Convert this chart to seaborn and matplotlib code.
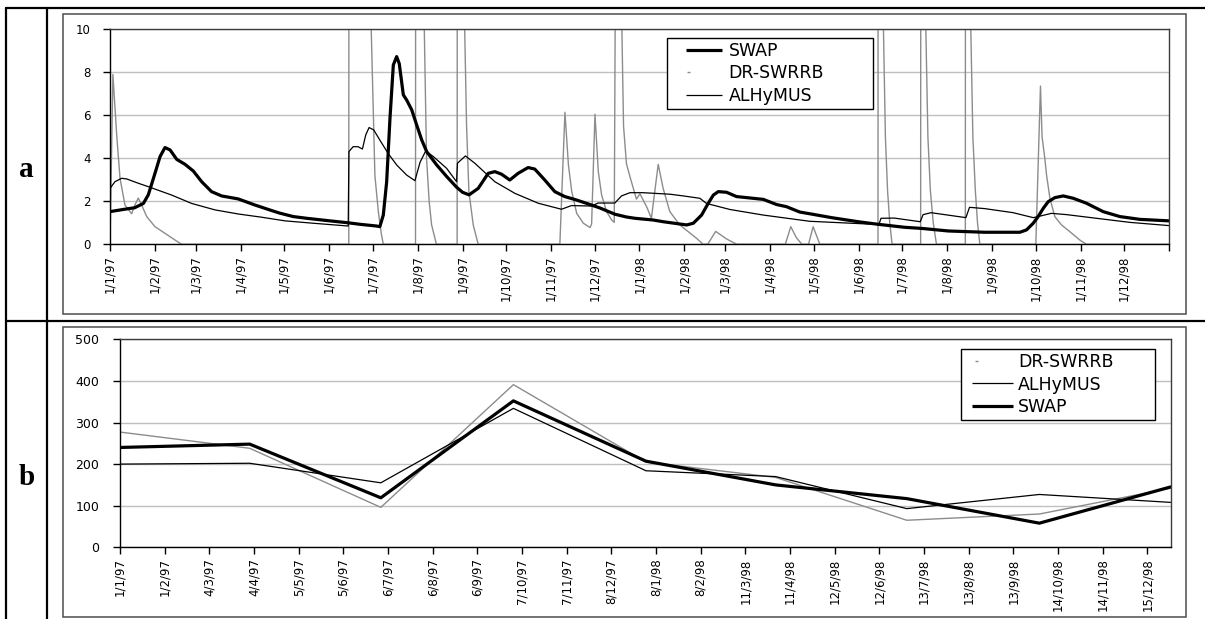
import numpy as np
import pandas as pd
import matplotlib
matplotlib.use("Agg")
import matplotlib.pyplot as plt
from matplotlib.lines import Line2D
from matplotlib.patches import Rectangle
from matplotlib.legend_handler import HandlerBase
import seaborn as sns

# ---------------------------------------------------------------------------
# Panel a: daily discharge, vertices given as (days after 1 Jan 1997, value)
# ---------------------------------------------------------------------------
swap_day = [0, 10, 17, 23, 26.4, 31, 34.5, 37.9, 41.4, 46, 51.7, 57.4, 63.2, 70, 76.9,
            88.4, 99.8, 111.4, 117, 126.3, 135.5, 151.6, 164.2, 172.3, 183.8, 186, 188.4,
            190.7, 193, 195.3, 197.6, 199.4, 202.2, 204.5, 208, 211.4, 214.9, 218.3, 225.2,
            232.1, 239, 243, 247.5, 253.8, 260.7, 265.3, 269.9, 275.6, 281.3, 288.2, 292.8,
            299.7, 306.6, 313.5, 321.6, 329.6, 337.7, 348, 356, 361.8, 374.4, 381.4, 397.5,
            402.1, 407.8, 412.4, 415.9, 419.3, 425, 431.9, 450.3, 459.5, 466.3, 475.5, 482.4,
            497.4, 515.8, 529.5, 547.9, 559.4, 577.8, 603, 627.2, 631.8, 636.4, 639.8, 643.3,
            646.7, 651.3, 657.1, 664, 673.1, 684.6, 696.1, 709.9, 730]
swap_val = [1.52, 1.63, 1.7, 1.9, 2.3, 3.3, 4.08, 4.5, 4.39, 3.95, 3.72, 3.41, 2.91, 2.45, 2.25,
            2.11, 1.83, 1.57, 1.45, 1.29, 1.21, 1.09, 1.0, 0.93, 0.85, 0.82, 1.36,
            2.9, 5.86, 8.34, 8.73, 8.4, 6.95, 6.71, 6.25, 5.55, 4.85, 4.31, 3.69,
            3.15, 2.65, 2.42, 2.3, 2.6, 3.3, 3.38, 3.26, 2.99, 3.3, 3.57, 3.5,
            2.99, 2.45, 2.22, 2.06, 1.88, 1.69, 1.4, 1.27, 1.21, 1.13, 1.05, 0.9,
            0.98, 1.36, 1.91, 2.29, 2.45, 2.42, 2.22, 2.09, 1.85, 1.75, 1.5, 1.42,
            1.24, 1.05, 0.93, 0.79, 0.74, 0.62, 0.56, 0.56, 0.67, 0.98, 1.29, 1.67,
            1.98, 2.17, 2.25, 2.14, 1.91, 1.52, 1.29, 1.16, 1.09]

alhy_day = [0, 3.4, 8, 11.5, 19.5, 26.4, 42.5, 56.3, 72.4, 88.4, 104.5, 120.6, 140, 164.2,
            164.7, 167.6, 171, 174, 176.3, 178.6, 181.8, 186, 191.7, 197.6, 204.5, 210.2,
            213.7, 217.6, 222.9, 232.1, 238.9, 239.5, 245, 251.5, 265.3, 279.1, 295.2,
            311.2, 318.1, 331.9, 336.5, 348, 352.6, 358.4, 367.5, 386, 395.2, 406.6, 411.2,
            427.3, 450.3, 482.4, 530, 531.5, 540.6, 558.5, 560.5, 566, 590, 592.5, 603,
            622.6, 636.4, 639.8, 649, 659.4, 680, 703, 730]
alhy_val = [2.6, 2.91, 3.07, 3.04, 2.84, 2.68, 2.29, 1.9, 1.6, 1.41, 1.26, 1.09, 0.98, 0.85,
            4.31, 4.54, 4.54, 4.43, 5.09, 5.43, 5.32, 4.85, 4.23, 3.69, 3.22, 2.96,
            3.81, 4.34, 4.08, 3.53, 2.91, 3.77, 4.11, 3.77, 2.91, 2.37, 1.91,
            1.63, 1.8, 1.78, 1.92, 1.92, 2.25, 2.4, 2.4, 2.33, 2.25, 2.14, 1.9,
            1.62, 1.36, 1.07, 0.92, 1.21, 1.22, 1.05, 1.38, 1.47, 1.24, 1.72, 1.66,
            1.47, 1.24, 1.29, 1.44, 1.38, 1.21, 1.02, 0.87]

drs_day = [0, 2, 4.6, 6.9, 10.3, 14.9, 17.2, 19.5, 21.8, 25.3, 31, 37.9, 44.8, 49.4,
           164.6, 164.8, 179.7, 182.6, 185, 187, 188.4,
           210.6, 210.8, 216.4, 218.2, 220, 221.7, 225,
           239.3, 239.5, 244.2, 245.8, 247.4, 250.4, 253.8,
           310.1, 313.6, 316, 318.3, 321.7, 326.3, 330.9, 332, 334.3, 336.6, 338.9, 342.3,
           345.8, 347.6, 349.9, 352.6, 354, 356, 358.4, 362.9, 365.3, 369.9, 373.2, 377.9,
           381.3, 385.9, 392.8, 404.3, 408.9,
           412, 417.5, 425, 432, 465.5, 469.3, 473.2, 477, 481.5, 484.7, 489.3,
           529.4, 529.6, 532.9, 534.5, 536, 537.5, 539.1,
           558.8, 559, 562.1, 563.8, 565.5, 567.5, 569.7,
           589.6, 589.8, 593.1, 594.8, 596.5, 598, 599.6,
           638.2, 641.4, 642.5, 644.4, 645.6, 647.9, 651.3, 655.9, 661.6, 668.5, 673.1, 730]
drs_val = [0, 7.9, 5.1, 3.07, 1.83, 1.42, 1.83, 2.15, 1.83, 1.29, 0.82, 0.51, 0.2, 0,
           0, 35, 11, 3.2, 1.5, 0.5, 0,
           0, 35, 11, 4.0, 2.0, 0.9, 0,
           0, 35, 11, 5.5, 2.45, 0.9, 0,
           0, 6.14, 3.69, 2.45, 1.44, 0.98, 0.78, 0.95, 6.05, 3.38, 2.29, 1.52,
           1.13, 1.02, 35, 11, 5.5, 3.75, 3.15, 2.1, 2.35, 1.75, 1.21, 3.72,
           2.6, 1.52, 0.9, 0.28, 0,
           0, 0.6, 0.25, 0, 0, 0.82, 0.3, 0, 0, 0.82, 0,
           0, 35, 11, 5.0, 2.5, 1.0, 0,
           0, 35, 11, 5.0, 2.5, 1.0, 0,
           0, 35, 11, 5.0, 2.5, 1.0, 0,
           0, 7.36, 5.0, 4.0, 3.22, 2.14, 1.29, 0.9, 0.59, 0.2, 0, 0]

a_tick_labels = ["1/1/97", "1/2/97", "1/3/97", "1/4/97", "1/5/97", "1/6/97", "1/7/97",
                 "1/8/97", "1/9/97", "1/10/97", "1/11/97", "1/12/97", "1/1/98", "1/2/98",
                 "1/3/98", "1/4/98", "1/5/98", "1/6/98", "1/7/98", "1/8/98", "1/9/98",
                 "1/10/98", "1/11/98", "1/12/98"]

# ---------------------------------------------------------------------------
# Panel b: quarterly totals
# ---------------------------------------------------------------------------
b_dates = ["1/1/97", "1/4/97", "1/7/97", "1/10/97", "1/1/98", "1/4/98", "1/7/98",
           "1/10/98", "31/12/98"]
b_swap = [240, 248, 119, 352, 207, 150, 117, 58, 145]
b_drs = [277, 238, 96, 391, 205, 168, 65, 80, 142]
b_alhy = [200, 202, 155, 334, 184, 170, 93, 127, 108]

b_tick_labels = ["1/1/97", "1/2/97", "4/3/97", "4/4/97", "5/5/97", "5/6/97", "6/7/97",
                 "6/8/97", "6/9/97", "7/10/97", "7/11/97", "8/12/97", "8/1/98", "8/2/98",
                 "11/3/98", "11/4/98", "12/5/98", "12/6/98", "13/7/98", "13/8/98",
                 "13/9/98", "14/10/98", "14/11/98", "15/12/98"]

# ---------------------------------------------------------------------------
sns.set_style("ticks")
plt.rcParams["font.family"] = ["DejaVu Sans"]
plt.rcParams["text.color"] = "black"
plt.rcParams["xtick.color"] = "black"
plt.rcParams["ytick.color"] = "black"
plt.rcParams["xtick.labelcolor"] = "black"
plt.rcParams["ytick.labelcolor"] = "black"

W, H = 1205, 619
START = pd.Timestamp("1997-01-01")
GREY = "#8c8c8c"


def to_dates(days):
    return START + pd.to_timedelta(np.asarray(days, dtype=float), unit="D")


def parse(labels):
    return pd.to_datetime(labels, format="%d/%m/%y")


def fx(x):
    return x / W


def fy(y):
    return 1 - y / H


class SegmentHandler(HandlerBase):
    """Legend key drawn as a segment over part of the handle box."""

    def __init__(self, f0, f1, color, lw):
        super().__init__()
        self.f0, self.f1, self.color, self.lw = f0, f1, color, lw

    def create_artists(self, legend, orig_handle, xdescent, ydescent, width, height,
                       fontsize, trans):
        y = height / 2 - ydescent
        ln = Line2D([-xdescent + self.f0 * width, -xdescent + self.f1 * width], [y, y],
                    color=self.color, lw=self.lw, solid_capstyle="butt")
        ln.set_transform(trans)
        return [ln]


fig = plt.figure(figsize=(W / 100, H / 100), dpi=100)
fig.patch.set_facecolor("white")

# table rules
for (x0, y0, x1, y1) in [(6, 8, W, 8), (6, 320.7, W, 320.7), (6, 8, 6, H), (47, 8, 47, H)]:
    fig.add_artist(Line2D([fx(x0), fx(x1)], [fy(y0), fy(y1)], color="black", lw=1.6,
                          transform=fig.transFigure))

# chart frames
for (x0, y0, x1, y1) in [(63.3, 14, 1185.7, 314.3), (63.3, 327.3, 1185.7, 617.3)]:
    fig.add_artist(Rectangle((fx(x0), fy(y1)), fx(x1) - fx(x0), fy(y0) - fy(y1),
                             fill=False, edgecolor="#4d4d4d", lw=1.1,
                             transform=fig.transFigure))

fig.text(fx(26.5), fy(177), "a", family="Liberation Serif", weight="bold", fontsize=21,
         ha="center", va="baseline", color="black")
fig.text(fx(26.5), fy(485), "b", family="Liberation Serif", weight="bold", fontsize=21,
         ha="center", va="baseline", color="black")


def style_axes(ax):
    ax.set_facecolor("white")
    ax.grid(axis="y", color="#c0c0c0", lw=1.0)
    ax.grid(axis="x", visible=False)
    ax.set_axisbelow(True)
    for s in ("left", "bottom"):
        ax.spines[s].set_color("black")
        ax.spines[s].set_linewidth(1.0)
    for s in ("top", "right"):
        ax.spines[s].set_visible(True)
        ax.spines[s].set_color("#3c3c3c")
        ax.spines[s].set_linewidth(1.0)
    ax.set_xlabel("")
    ax.set_ylabel("")


# ---------------- panel a ----------------
ax_a = fig.add_axes([fx(110), fy(244.3), fx(1169) - fx(110), fy(29.3) - fy(244.3)])
series_a = [("DR-SWRRB", drs_day, drs_val, GREY, 1.0),
            ("ALHyMUS", alhy_day, alhy_val, "black", 0.9),
            ("SWAP", swap_day, swap_val, "black", 2.3)]
for name, d, v, c, lw in series_a:
    df = pd.DataFrame({"date": to_dates(d), "value": v})
    sns.lineplot(data=df, x="date", y="value", ax=ax_a, color=c, lw=lw,
                 estimator=None, sort=False, legend=False)

ax_a.set_ylim(0, 10)
ax_a.set_yticks([0, 2, 4, 6, 8, 10])
ax_a.set_xlim(START, pd.Timestamp("1999-01-01"))
a_ticks = list(parse(a_tick_labels)) + [pd.Timestamp("1999-01-01")]
ax_a.set_xticks(a_ticks)
ax_a.set_xticklabels(a_tick_labels + [""], rotation=90)
style_axes(ax_a)
ax_a.tick_params(axis="x", direction="out", length=5, width=1, color="black",
                 labelcolor="black", labelsize=8.5, pad=3)
ax_a.tick_params(axis="y", direction="out", length=5, width=1, color="black",
                 labelcolor="black", labelsize=8.5, pad=9)

fs_leg = 12.5
x0a, x1a = (667.3 - 110) / 1059, (873.3 - 110) / 1059
topa, bota = (244.3 - 37.7) / 215, (244.3 - 112.7) / 215
h_swap, h_drs, h_alhy = object(), object(), object()
leg_a = ax_a.legend(
    [h_swap, h_drs, h_alhy], ["SWAP", "DR-SWRRB", "ALHyMUS"],
    handler_map={h_swap: SegmentHandler(0.29, 1.0, "black", 2.3),
                 h_drs: SegmentHandler(0.31, 0.37, GREY, 1.0),
                 h_alhy: SegmentHandler(0.29, 1.0, "black", 0.9)},
    loc="upper left", bbox_to_anchor=(x0a, bota, x1a - x0a, topa - bota), mode="expand",
    borderaxespad=0, fontsize=fs_leg, handlelength=2.94, handletextpad=0.35,
    borderpad=0.23, labelspacing=0.26, fancybox=False, framealpha=1,
    edgecolor="black", labelcolor="black")
leg_a.get_frame().set_linewidth(1.0)

# ---------------- panel b ----------------
ax_b = fig.add_axes([fx(120), fy(547.3), fx(1170.5) - fx(120), fy(339.3) - fy(547.3)])
bd = parse(b_dates)
series_b = [("DR-SWRRB", b_drs, GREY, 1.0),
            ("ALHyMUS", b_alhy, "black", 0.9),
            ("SWAP", b_swap, "black", 2.3)]
for name, v, c, lw in series_b:
    df = pd.DataFrame({"date": bd, "value": v})
    sns.lineplot(data=df, x="date", y="value", ax=ax_b, color=c, lw=lw,
                 estimator=None, sort=False, legend=False)

ax_b.set_ylim(0, 500)
ax_b.set_yticks([0, 100, 200, 300, 400, 500])
ax_b.set_xlim(bd[0], bd[-1])
ax_b.set_xticks(list(parse(b_tick_labels)))
ax_b.set_xticklabels(b_tick_labels, rotation=90)
style_axes(ax_b)
ax_b.tick_params(axis="x", direction="out", length=5, width=1, color="black",
                 labelcolor="black", labelsize=8.5, pad=3)
ax_b.tick_params(axis="y", direction="out", length=5, width=1, color="black",
                 labelcolor="black", labelsize=9, pad=10)

x0b, x1b = (961 - 120) / 1050.5, (1155 - 120) / 1050.5
topb, botb = (547.3 - 349) / 208, (547.3 - 424) / 208
g_drs, g_alhy, g_swap = object(), object(), object()
leg_b = ax_b.legend(
    [g_drs, g_alhy, g_swap], ["DR-SWRRB", "ALHyMUS", "SWAP"],
    handler_map={g_drs: SegmentHandler(0.21, 0.27, GREY, 1.0),
                 g_alhy: SegmentHandler(0.14, 1.0, "black", 0.9),
                 g_swap: SegmentHandler(0.14, 1.0, "black", 2.3)},
    loc="upper left", bbox_to_anchor=(x0b, botb, x1b - x0b, topb - botb), mode="expand",
    borderaxespad=0, fontsize=fs_leg, handlelength=2.78, handletextpad=0.29,
    borderpad=0.23, labelspacing=0.26, fancybox=False, framealpha=1,
    edgecolor="black", labelcolor="black")
leg_b.get_frame().set_linewidth(1.0)

fig.savefig("out.png", dpi=100, facecolor="white")
